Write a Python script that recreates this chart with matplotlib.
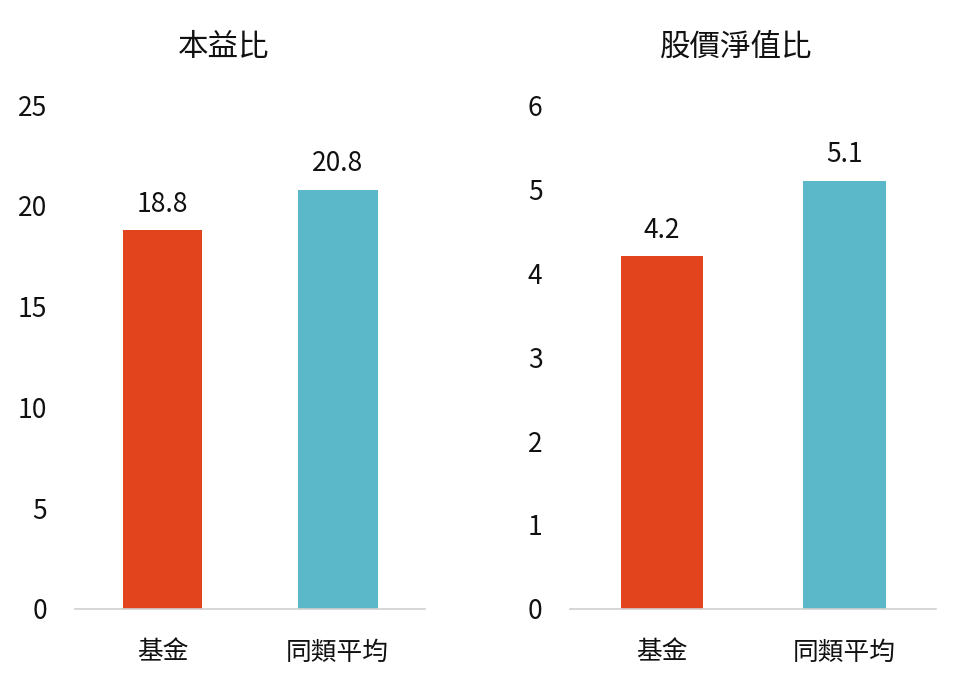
import matplotlib
matplotlib.use('Agg')
import matplotlib.pyplot as plt

plt.rcParams['font.family'] = ['Noto Sans CJK TC', 'DejaVu Sans']

categories = ['基金', '同類平均']
pe_values = [18.8, 20.8]
pb_values = [4.2, 5.1]
titles = ['本益比', '股價淨值比']
pe_ticks = [0, 5, 10, 15, 20, 25]
pb_ticks = [0, 1, 2, 3, 4, 5, 6]
colors = ['#E2451E', '#5BB8C8']

fig = plt.figure(figsize=(9.6, 6.9), dpi=100)
ax1 = fig.add_axes([0.078, 0.1174, 0.365, 0.7304])
ax2 = fig.add_axes([0.594, 0.1174, 0.381, 0.7304])


def draw(ax, values, ticks, width):
    x = range(len(categories))
    bars = ax.bar(x, values, width=width, color=colors)
    for b, v in zip(bars, values):
        ax.annotate(f'{v:.1f}', (b.get_x() + b.get_width() / 2, v),
                    xytext=(0, 9), textcoords='offset points',
                    ha='center', va='bottom', fontsize=19, color='#111111')
    ax.set_xlim(-0.5, 1.5)
    ax.set_ylim(ticks[0], ticks[-1])
    ax.set_yticks(ticks)
    ax.set_xticks(list(x))
    ax.set_xticklabels(categories)
    for s in ['top', 'right', 'left']:
        ax.spines[s].set_visible(False)
    ax.spines['bottom'].set_color('#d0d0d0')
    ax.spines['bottom'].set_linewidth(1.2)
    ax.tick_params(axis='y', length=0, pad=20, labelsize=19, labelcolor='#111111')
    ax.tick_params(axis='x', length=0, pad=22, labelsize=18.5, labelcolor='#111111')


draw(ax1, pe_values, pe_ticks, 0.455)
draw(ax2, pb_values, pb_ticks, 0.45)

fig.text(224 / 960, 1 - 47 / 690, titles[0], ha='center', va='center', fontsize=22, color='#111111')
fig.text(736 / 960, 1 - 47 / 690, titles[1], ha='center', va='center', fontsize=22, color='#111111')

plt.savefig('out.png', dpi=100)
